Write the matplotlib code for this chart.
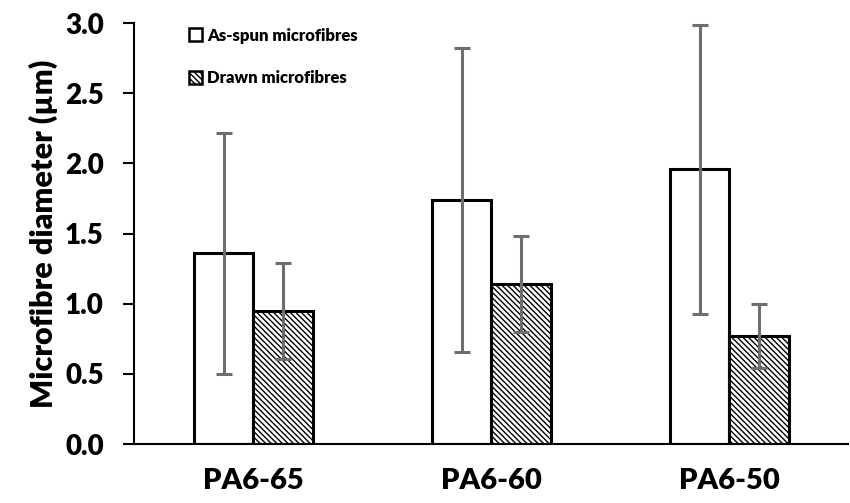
import matplotlib.pyplot as plt
import numpy as np

plt.rcParams['font.family'] = ['Lato', 'DejaVu Sans']
plt.rcParams['hatch.linewidth'] = 1.0

samples = ["PA6-65", "PA6-60", "PA6-50"]
as_spun = [1.36, 1.74, 1.96]
as_spun_err = [0.86, 1.08, 1.03]
drawn = [0.95, 1.14, 0.77]
drawn_err = [0.34, 0.34, 0.23]

x = np.arange(len(samples))
w = 0.25

fig = plt.figure(figsize=(8.5, 5.03), dpi=100)
ax = fig.add_axes([0.158, 0.117, 0.84, 0.837])

ekw = dict(ecolor="#6e6e6e", elinewidth=2.2, capsize=6, capthick=2.2)
ax.bar(x - w / 2, as_spun, w, yerr=as_spun_err, color="white", edgecolor="black",
       linewidth=2.2, error_kw=ekw, label="As-spun microfibres")
ax.bar(x + w / 2, drawn, w, yerr=drawn_err, color="white", edgecolor="black",
       hatch="\\\\\\\\\\\\", linewidth=2.2, error_kw=ekw, label="Drawn microfibres")

ax.set_xlim(-0.5, 2.5)
ax.set_ylim(0, 3.0)
ticks = np.arange(0, 3.01, 0.5)
ax.set_yticks(ticks)
ax.set_yticklabels(["%.1f" % v for v in ticks], fontsize=20, fontweight="heavy")
ax.set_xticks(x)
ax.set_xticklabels(samples, fontsize=21, fontweight="heavy")
ax.tick_params(axis="x", length=0, pad=17)
ax.tick_params(axis="y", length=8, width=1.5, pad=14)
ax.set_ylabel("Microfibre diameter (µm)", fontsize=22, fontweight="heavy", labelpad=5)

for s in ["top", "right"]:
    ax.spines[s].set_visible(False)
ax.spines["left"].set_linewidth(1.5)
ax.spines["bottom"].set_linewidth(1.5)

leg = ax.legend(loc="upper left", bbox_to_anchor=(0.055, 1.025), frameon=False,
                prop={"size": 12, "weight": "heavy"}, handlelength=0.8, handleheight=0.8,
                handletextpad=0.3, labelspacing=1.6)
for h in leg.legend_handles:
    h.set_linewidth(1.8)

fig.savefig("out.png", dpi=100)
